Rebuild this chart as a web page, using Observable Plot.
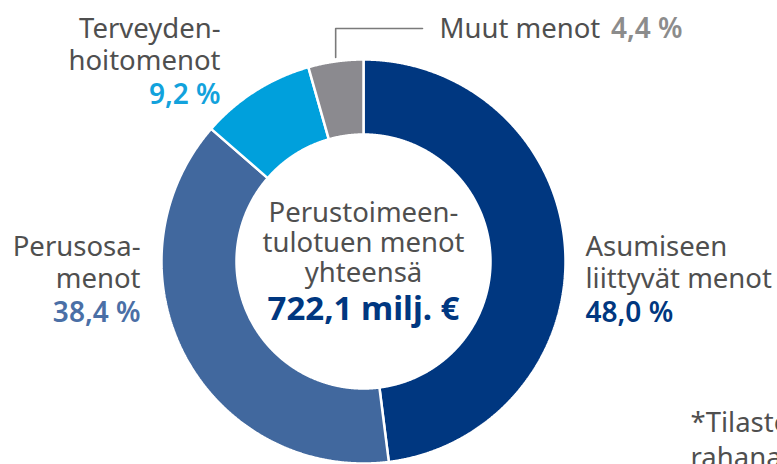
<!DOCTYPE html>
<html><head><meta charset="utf-8">
<script src="https://cdn.jsdelivr.net/npm/d3@7"></script>
<script src="https://cdn.jsdelivr.net/npm/@observablehq/plot@0.6"></script>
<style>html,body{margin:0;padding:0;background:#fff;overflow:hidden}</style>
</head><body><div id="chart"></div>
<script>
// ---- data ----
const categories = ["Asumiseen liittyvät menot", "Perusosamenot", "Terveydenhoitomenot", "Muut menot"];
const shares = [48.0, 38.4, 9.2, 4.4];
const shareLabels = ["48,0 %", "38,4 %", "9,2 %", "4,4 %"];
const nameLines = [["Asumiseen", "liittyvät menot"], ["Perusosa-", "menot"], ["Terveyden-", "hoitomenot"], ["Muut menot"]];
const centerLines = ["Perustoimeen-", "tulotuen menot", "yhteensä"];
const totalLabel = "722,1 milj. €";
const footnoteLines = ["*Tilasto", "rahana"];

// ---- styles / layout ----
const sliceColors = ["#003780", "#41689e", "#00a0dc", "#8b8a8f"];
const shareColors = ["#003780", "#4a6fa6", "#12a2dc", "#8c8c8c"];
const textGray = "#4f4f4f";
const W = 777, H = 464, CX = 363, CY = 261, R0 = 127, R1 = 202;
const FS = 27.5, LH = 32;
const labelPos = [
  {x: 585, y: 255, anchor: "start"},
  {x: 140, y: 255, anchor: "end"},
  {x: 220, y: 37, anchor: "end"}
];

// ---- arc geometry derived from shares ----
const slicePts = [];
let acc = 0;
const total = d3.sum(shares);
const mids = [];
shares.forEach((s, i) => {
  const a0 = acc / total * 2 * Math.PI, a1 = (acc + s) / total * 2 * Math.PI;
  acc += s;
  mids.push((a0 + a1) / 2);
  const n = Math.max(4, Math.ceil((a1 - a0) / (Math.PI / 720)));
  const pts = [];
  for (let k = 0; k <= n; k++) { const a = a0 + (a1 - a0) * k / n; pts.push({cat: categories[i], x: R1 * Math.sin(a), y: -R1 * Math.cos(a)}); }
  for (let k = n; k >= 0; k--) { const a = a0 + (a1 - a0) * k / n; pts.push({cat: categories[i], x: R0 * Math.sin(a), y: -R0 * Math.cos(a)}); }
  pts.push({...pts[0]});
  slicePts.push(...pts);
});

// text rows
const textRows = [];
const shareRows = [];
labelPos.forEach((p, i) => {
  nameLines[i].forEach((t, j) => textRows.push({t, x: p.x - CX, y: p.y + j * LH - CY, anchor: p.anchor}));
  shareRows.push({t: shareLabels[i], x: p.x - CX, y: p.y + nameLines[i].length * LH + 2 - CY, anchor: p.anchor, c: shareColors[i]});
});
const muutY = 37 - CY;
textRows.push({t: nameLines[3][0], x: 439 - CX, y: muutY, anchor: "start"});
shareRows.push({t: shareLabels[3], x: 682 - CX, y: muutY, anchor: "end", c: shareColors[3]});
const mx = R1 * Math.sin(mids[3]);
const my = -R1 * Math.cos(mids[3]);
const leader = [{x: mx, y: my - 4}, {x: mx, y: 28 - CY}, {x: 422 - CX, y: 28 - CY}];

const centerRows = centerLines.map((t, j) => ({t, y: 221 + j * 30 - CY}));
const footRows = footnoteLines.map((t, j) => ({t, x: 690 - CX, y: 431 + j * 35 - CY}));

const byAnchor = (rows, a) => rows.filter(r => r.anchor === a);

const chart = Plot.plot({
  width: W, height: H,
  margin: 0,
  x: {domain: [-CX, W - CX], range: [0, W], axis: null},
  y: {domain: [-CY, H - CY], range: [0, H], axis: null},
  color: {domain: categories, range: sliceColors},
  style: {fontFamily: "'Noto Sans', sans-serif", background: "#fff", overflow: "hidden"},
  marks: [
    Plot.line(slicePts, {x: "x", y: "y", z: "cat", fill: "cat", stroke: "white", strokeWidth: 2.5, curve: "linear", strokeLinejoin: "miter"}),
    Plot.line(leader, {x: "x", y: "y", stroke: "#7a7a7a", strokeWidth: 1.6}),
    ...["start", "end"].map(a => Plot.text(byAnchor(textRows, a), {x: "x", y: "y", text: "t", textAnchor: a, lineAnchor: "bottom", fontSize: FS, fontWeight: 380, fill: textGray})),
    ...["start", "end"].map(a => Plot.text(byAnchor(shareRows, a), {x: "x", y: "y", text: "t", textAnchor: a, lineAnchor: "bottom", fontSize: 28, fontWeight: 560, fill: d => d.c})),
    Plot.text(centerRows, {x: 0, y: "y", text: "t", textAnchor: "middle", lineAnchor: "bottom", fontSize: FS, fontWeight: 380, fill: textGray}),
    Plot.text([totalLabel], {x: 0, y: 319 - CY, text: d => d, textAnchor: "middle", lineAnchor: "bottom", fontSize: 33, fontWeight: 700, fill: "#003780"}),
    Plot.text(footRows, {x: "x", y: "y", text: "t", textAnchor: "start", lineAnchor: "bottom", fontSize: FS, fontWeight: 380, fill: textGray})
  ]
});
document.getElementById("chart").append(chart);
</script>
</body></html>
